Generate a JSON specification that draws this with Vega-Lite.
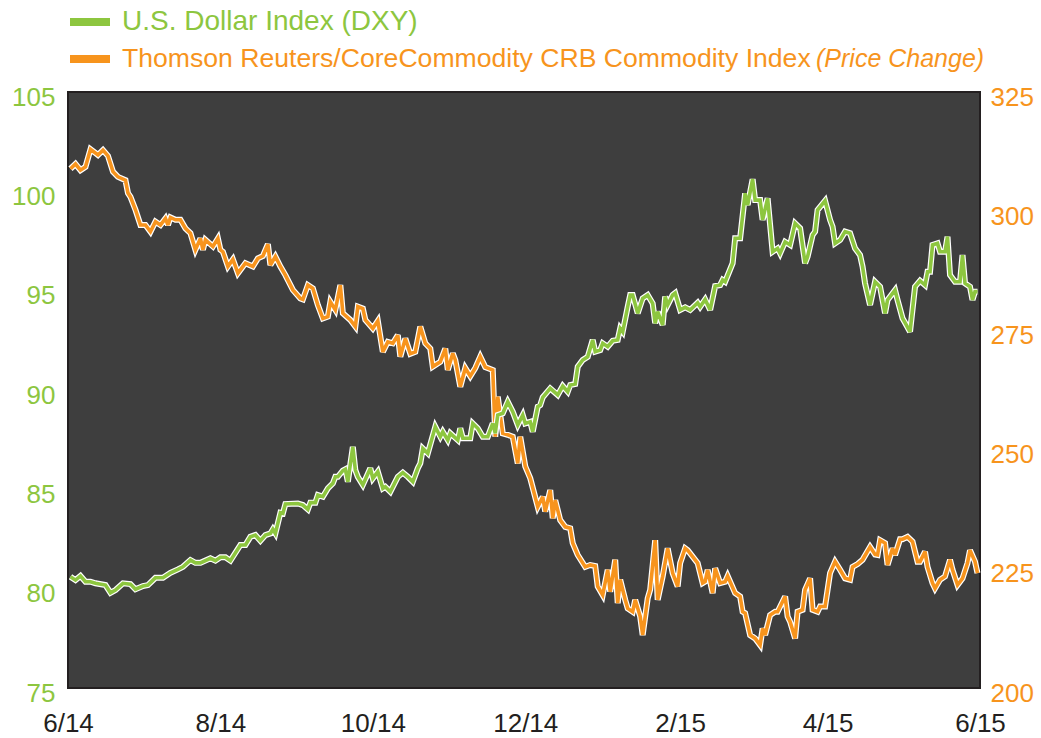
{
  "$schema": "https://vega.github.io/schema/vega-lite/v6.json",
  "width": 912,
  "height": 596,
  "autosize": {"type": "none"},
  "padding": {"left": 68, "top": 92, "right": 61, "bottom": 50},
  "background": "white",
  "config": {
    "view": {"fill": "#3e3e3e", "stroke": "#231f20", "strokeWidth": 2},
    "font": "Liberation Sans"
  },
  "datasets": {
    "dxy": [
      {"date": "2014-06-02", "value": 80.60}, {"date": "2014-06-04", "value": 80.43}, {"date": "2014-06-06", "value": 80.64}, {"date": "2014-06-08", "value": 80.35}, {"date": "2014-06-10", "value": 80.35}, {"date": "2014-06-12", "value": 80.27}, {"date": "2014-06-16", "value": 80.18}, {"date": "2014-06-18", "value": 79.79}, {"date": "2014-06-20", "value": 79.93}, {"date": "2014-06-23", "value": 80.27}, {"date": "2014-06-26", "value": 80.23}, {"date": "2014-06-28", "value": 79.97},
      {"date": "2014-07-01", "value": 80.13}, {"date": "2014-07-03", "value": 80.18}, {"date": "2014-07-06", "value": 80.55}, {"date": "2014-07-09", "value": 80.55}, {"date": "2014-07-12", "value": 80.80}, {"date": "2014-07-15", "value": 80.97}, {"date": "2014-07-17", "value": 81.10}, {"date": "2014-07-20", "value": 81.44}, {"date": "2014-07-22", "value": 81.30}, {"date": "2014-07-24", "value": 81.30}, {"date": "2014-07-28", "value": 81.53}, {"date": "2014-07-30", "value": 81.41},
      {"date": "2014-08-01", "value": 81.58}, {"date": "2014-08-03", "value": 81.58}, {"date": "2014-08-05", "value": 81.41}, {"date": "2014-08-09", "value": 82.20}, {"date": "2014-08-11", "value": 82.20}, {"date": "2014-08-13", "value": 82.61}, {"date": "2014-08-15", "value": 82.70}, {"date": "2014-08-17", "value": 82.41}, {"date": "2014-08-19", "value": 82.70}, {"date": "2014-08-21", "value": 82.78}, {"date": "2014-08-22", "value": 82.99}, {"date": "2014-08-23", "value": 82.78}, {"date": "2014-08-25", "value": 83.82}, {"date": "2014-08-26", "value": 83.79}, {"date": "2014-08-27", "value": 84.26},
      {"date": "2014-09-01", "value": 84.29}, {"date": "2014-09-03", "value": 84.21}, {"date": "2014-09-05", "value": 83.99}, {"date": "2014-09-06", "value": 84.33}, {"date": "2014-09-08", "value": 84.33}, {"date": "2014-09-09", "value": 84.71}, {"date": "2014-09-11", "value": 84.63}, {"date": "2014-09-13", "value": 85.05}, {"date": "2014-09-15", "value": 85.30}, {"date": "2014-09-16", "value": 85.63}, {"date": "2014-09-17", "value": 85.63}, {"date": "2014-09-19", "value": 85.94}, {"date": "2014-09-20", "value": 86.01}, {"date": "2014-09-21", "value": 85.38}, {"date": "2014-09-23", "value": 87.14}, {"date": "2014-09-24", "value": 85.97}, {"date": "2014-09-25", "value": 85.63}, {"date": "2014-09-27", "value": 85.22}, {"date": "2014-09-30", "value": 86.06},
      {"date": "2014-10-01", "value": 85.55}, {"date": "2014-10-03", "value": 85.89}, {"date": "2014-10-05", "value": 85.05}, {"date": "2014-10-06", "value": 85.13}, {"date": "2014-10-08", "value": 84.88}, {"date": "2014-10-11", "value": 85.63}, {"date": "2014-10-13", "value": 85.84}, {"date": "2014-10-15", "value": 85.63}, {"date": "2014-10-17", "value": 85.38}, {"date": "2014-10-19", "value": 86.06}, {"date": "2014-10-20", "value": 86.31}, {"date": "2014-10-21", "value": 87.06}, {"date": "2014-10-23", "value": 86.81}, {"date": "2014-10-26", "value": 88.15}, {"date": "2014-10-28", "value": 87.65}, {"date": "2014-10-29", "value": 87.90}, {"date": "2014-10-31", "value": 87.48},
      {"date": "2014-11-01", "value": 87.82}, {"date": "2014-11-04", "value": 87.48}, {"date": "2014-11-05", "value": 88.07}, {"date": "2014-11-06", "value": 87.57}, {"date": "2014-11-09", "value": 87.57}, {"date": "2014-11-10", "value": 88.32}, {"date": "2014-11-12", "value": 88.07}, {"date": "2014-11-14", "value": 87.65}, {"date": "2014-11-16", "value": 87.65}, {"date": "2014-11-18", "value": 88.32}, {"date": "2014-11-19", "value": 87.82}, {"date": "2014-11-20", "value": 88.74}, {"date": "2014-11-22", "value": 88.83}, {"date": "2014-11-24", "value": 89.41}, {"date": "2014-11-26", "value": 88.91}, {"date": "2014-11-28", "value": 88.24}, {"date": "2014-11-30", "value": 88.74},
      {"date": "2014-12-01", "value": 88.32}, {"date": "2014-12-03", "value": 88.40}, {"date": "2014-12-04", "value": 87.90}, {"date": "2014-12-06", "value": 89.16}, {"date": "2014-12-07", "value": 89.24}, {"date": "2014-12-08", "value": 89.63}, {"date": "2014-12-11", "value": 90.08}, {"date": "2014-12-14", "value": 89.75}, {"date": "2014-12-16", "value": 90.20}, {"date": "2014-12-18", "value": 89.91}, {"date": "2014-12-19", "value": 90.25}, {"date": "2014-12-21", "value": 90.30}, {"date": "2014-12-22", "value": 91.17}, {"date": "2014-12-24", "value": 91.51}, {"date": "2014-12-26", "value": 91.67}, {"date": "2014-12-28", "value": 92.52}, {"date": "2014-12-29", "value": 91.93}, {"date": "2014-12-31", "value": 92.01},
      {"date": "2015-01-01", "value": 92.35}, {"date": "2015-01-03", "value": 92.18}, {"date": "2015-01-05", "value": 92.48}, {"date": "2015-01-07", "value": 92.52}, {"date": "2015-01-08", "value": 93.10}, {"date": "2015-01-09", "value": 92.93}, {"date": "2015-01-11", "value": 94.19}, {"date": "2015-01-12", "value": 94.78}, {"date": "2015-01-13", "value": 94.78}, {"date": "2015-01-15", "value": 93.86}, {"date": "2015-01-17", "value": 94.61}, {"date": "2015-01-19", "value": 94.78}, {"date": "2015-01-21", "value": 94.36}, {"date": "2015-01-22", "value": 93.36}, {"date": "2015-01-23", "value": 93.94}, {"date": "2015-01-25", "value": 93.27}, {"date": "2015-01-26", "value": 94.70}, {"date": "2015-01-27", "value": 94.28}, {"date": "2015-01-29", "value": 94.78}, {"date": "2015-01-30", "value": 94.88},
      {"date": "2015-02-01", "value": 94.03}, {"date": "2015-02-03", "value": 94.16}, {"date": "2015-02-05", "value": 94.03}, {"date": "2015-02-08", "value": 94.39}, {"date": "2015-02-09", "value": 94.19}, {"date": "2015-02-11", "value": 94.56}, {"date": "2015-02-13", "value": 94.03}, {"date": "2015-02-15", "value": 95.23}, {"date": "2015-02-17", "value": 95.28}, {"date": "2015-02-18", "value": 95.54}, {"date": "2015-02-19", "value": 95.45}, {"date": "2015-02-22", "value": 96.38}, {"date": "2015-02-23", "value": 97.64}, {"date": "2015-02-25", "value": 97.64}, {"date": "2015-02-27", "value": 99.90}, {"date": "2015-02-28", "value": 99.31},
      {"date": "2015-03-02", "value": 100.61}, {"date": "2015-03-03", "value": 99.56}, {"date": "2015-03-05", "value": 99.56}, {"date": "2015-03-06", "value": 98.56}, {"date": "2015-03-08", "value": 99.65}, {"date": "2015-03-10", "value": 96.96}, {"date": "2015-03-12", "value": 97.13}, {"date": "2015-03-13", "value": 96.88}, {"date": "2015-03-15", "value": 97.46}, {"date": "2015-03-17", "value": 97.30}, {"date": "2015-03-19", "value": 98.39}, {"date": "2015-03-21", "value": 98.14}, {"date": "2015-03-23", "value": 96.38}, {"date": "2015-03-24", "value": 96.71}, {"date": "2015-03-26", "value": 97.80}, {"date": "2015-03-27", "value": 97.97}, {"date": "2015-03-28", "value": 99.06}, {"date": "2015-03-31", "value": 99.53},
      {"date": "2015-04-02", "value": 98.56}, {"date": "2015-04-03", "value": 98.22}, {"date": "2015-04-04", "value": 97.38}, {"date": "2015-04-06", "value": 97.55}, {"date": "2015-04-08", "value": 97.97}, {"date": "2015-04-10", "value": 97.89}, {"date": "2015-04-12", "value": 97.13}, {"date": "2015-04-14", "value": 96.79}, {"date": "2015-04-15", "value": 96.21}, {"date": "2015-04-16", "value": 95.37}, {"date": "2015-04-18", "value": 94.28}, {"date": "2015-04-20", "value": 95.45}, {"date": "2015-04-22", "value": 95.20}, {"date": "2015-04-24", "value": 93.86}, {"date": "2015-04-25", "value": 94.53}, {"date": "2015-04-28", "value": 95.03}, {"date": "2015-04-29", "value": 94.53},
      {"date": "2015-05-01", "value": 93.61}, {"date": "2015-05-02", "value": 93.39}, {"date": "2015-05-04", "value": 92.93}, {"date": "2015-05-06", "value": 95.20}, {"date": "2015-05-08", "value": 95.50}, {"date": "2015-05-10", "value": 95.28}, {"date": "2015-05-11", "value": 95.95}, {"date": "2015-05-12", "value": 95.95}, {"date": "2015-05-13", "value": 97.30}, {"date": "2015-05-15", "value": 97.38}, {"date": "2015-05-16", "value": 96.96}, {"date": "2015-05-18", "value": 96.96}, {"date": "2015-05-19", "value": 97.72}, {"date": "2015-05-20", "value": 95.79}, {"date": "2015-05-22", "value": 95.45}, {"date": "2015-05-24", "value": 95.45}, {"date": "2015-05-25", "value": 96.79}, {"date": "2015-05-26", "value": 95.37}, {"date": "2015-05-28", "value": 95.20}, {"date": "2015-05-29", "value": 94.53}, {"date": "2015-05-30", "value": 94.95}, {"date": "2015-05-31", "value": 94.95}
    ],
    "crb": [
      {"date": "2014-06-02", "value": 308.9}, {"date": "2014-06-04", "value": 309.9}, {"date": "2014-06-06", "value": 308.6}, {"date": "2014-06-08", "value": 309.3}, {"date": "2014-06-10", "value": 313.0}, {"date": "2014-06-13", "value": 311.8}, {"date": "2014-06-15", "value": 312.8}, {"date": "2014-06-17", "value": 311.6}, {"date": "2014-06-19", "value": 308.3}, {"date": "2014-06-21", "value": 307.2}, {"date": "2014-06-24", "value": 306.5}, {"date": "2014-06-25", "value": 303.8}, {"date": "2014-06-26", "value": 303.0}, {"date": "2014-06-28", "value": 300.3}, {"date": "2014-06-30", "value": 297.1},
      {"date": "2014-07-02", "value": 297.1}, {"date": "2014-07-04", "value": 295.7}, {"date": "2014-07-06", "value": 297.8}, {"date": "2014-07-08", "value": 297.1}, {"date": "2014-07-10", "value": 298.5}, {"date": "2014-07-11", "value": 297.1}, {"date": "2014-07-12", "value": 298.7}, {"date": "2014-07-14", "value": 298.2}, {"date": "2014-07-16", "value": 298.2}, {"date": "2014-07-18", "value": 296.4}, {"date": "2014-07-20", "value": 295.4}, {"date": "2014-07-22", "value": 291.9}, {"date": "2014-07-24", "value": 294.3}, {"date": "2014-07-25", "value": 291.9}, {"date": "2014-07-26", "value": 294.0}, {"date": "2014-07-29", "value": 292.6}, {"date": "2014-07-31", "value": 294.3},
      {"date": "2014-08-01", "value": 291.9}, {"date": "2014-08-02", "value": 291.5}, {"date": "2014-08-04", "value": 288.4}, {"date": "2014-08-06", "value": 289.9}, {"date": "2014-08-08", "value": 287.0}, {"date": "2014-08-11", "value": 289.1}, {"date": "2014-08-14", "value": 288.4}, {"date": "2014-08-16", "value": 290.1}, {"date": "2014-08-18", "value": 290.6}, {"date": "2014-08-20", "value": 293.1}, {"date": "2014-08-21", "value": 288.7}, {"date": "2014-08-23", "value": 290.5}, {"date": "2014-08-25", "value": 288.4}, {"date": "2014-08-27", "value": 286.6}, {"date": "2014-08-30", "value": 283.5},
      {"date": "2014-09-02", "value": 281.7}, {"date": "2014-09-03", "value": 281.5}, {"date": "2014-09-05", "value": 284.5}, {"date": "2014-09-07", "value": 283.8}, {"date": "2014-09-09", "value": 280.3}, {"date": "2014-09-11", "value": 277.5}, {"date": "2014-09-13", "value": 277.9}, {"date": "2014-09-14", "value": 281.0}, {"date": "2014-09-16", "value": 279.3}, {"date": "2014-09-18", "value": 284.5}, {"date": "2014-09-19", "value": 278.6}, {"date": "2014-09-22", "value": 277.2}, {"date": "2014-09-24", "value": 275.8}, {"date": "2014-09-25", "value": 280.0}, {"date": "2014-09-27", "value": 279.6}, {"date": "2014-09-28", "value": 277.2},
      {"date": "2014-10-01", "value": 275.4}, {"date": "2014-10-03", "value": 277.0}, {"date": "2014-10-05", "value": 270.5}, {"date": "2014-10-07", "value": 272.6}, {"date": "2014-10-09", "value": 272.3}, {"date": "2014-10-11", "value": 274.0}, {"date": "2014-10-12", "value": 269.5}, {"date": "2014-10-14", "value": 273.3}, {"date": "2014-10-16", "value": 270.1}, {"date": "2014-10-18", "value": 270.5}, {"date": "2014-10-20", "value": 275.8}, {"date": "2014-10-22", "value": 272.3}, {"date": "2014-10-24", "value": 271.2}, {"date": "2014-10-25", "value": 267.4}, {"date": "2014-10-28", "value": 268.4}, {"date": "2014-10-30", "value": 271.2}, {"date": "2014-10-31", "value": 266.7},
      {"date": "2014-11-02", "value": 270.2}, {"date": "2014-11-03", "value": 268.8}, {"date": "2014-11-05", "value": 263.2}, {"date": "2014-11-07", "value": 267.1}, {"date": "2014-11-09", "value": 265.4}, {"date": "2014-11-11", "value": 267.1}, {"date": "2014-11-13", "value": 269.5}, {"date": "2014-11-15", "value": 267.3}, {"date": "2014-11-18", "value": 266.7}, {"date": "2014-11-19", "value": 252.7}, {"date": "2014-11-20", "value": 261.1}, {"date": "2014-11-22", "value": 253.4}, {"date": "2014-11-24", "value": 253.1}, {"date": "2014-11-26", "value": 252.7}, {"date": "2014-11-28", "value": 247.1}, {"date": "2014-11-29", "value": 252.7},
      {"date": "2014-12-01", "value": 246.5}, {"date": "2014-12-03", "value": 244.0}, {"date": "2014-12-06", "value": 238.0}, {"date": "2014-12-08", "value": 240.1}, {"date": "2014-12-09", "value": 237.0}, {"date": "2014-12-11", "value": 241.5}, {"date": "2014-12-12", "value": 235.6}, {"date": "2014-12-13", "value": 239.4}, {"date": "2014-12-15", "value": 235.2}, {"date": "2014-12-17", "value": 233.8}, {"date": "2014-12-19", "value": 233.5}, {"date": "2014-12-20", "value": 230.4}, {"date": "2014-12-22", "value": 227.9}, {"date": "2014-12-25", "value": 225.4}, {"date": "2014-12-27", "value": 225.8}, {"date": "2014-12-29", "value": 225.6}, {"date": "2014-12-30", "value": 221.3},
      {"date": "2015-01-01", "value": 219.5}, {"date": "2015-01-03", "value": 224.8}, {"date": "2015-01-04", "value": 220.2}, {"date": "2015-01-06", "value": 226.9}, {"date": "2015-01-07", "value": 217.8}, {"date": "2015-01-08", "value": 222.7}, {"date": "2015-01-10", "value": 218.5}, {"date": "2015-01-11", "value": 216.7}, {"date": "2015-01-13", "value": 216.0}, {"date": "2015-01-14", "value": 218.5}, {"date": "2015-01-16", "value": 215.0}, {"date": "2015-01-17", "value": 211.1}, {"date": "2015-01-19", "value": 218.8}, {"date": "2015-01-20", "value": 220.6}, {"date": "2015-01-22", "value": 231.0}, {"date": "2015-01-23", "value": 218.5}, {"date": "2015-01-25", "value": 223.4}, {"date": "2015-01-27", "value": 229.3}, {"date": "2015-01-29", "value": 224.1}, {"date": "2015-01-31", "value": 221.3},
      {"date": "2015-02-01", "value": 226.2}, {"date": "2015-02-03", "value": 229.3}, {"date": "2015-02-04", "value": 228.9}, {"date": "2015-02-08", "value": 226.2}, {"date": "2015-02-10", "value": 222.0}, {"date": "2015-02-11", "value": 222.3}, {"date": "2015-02-12", "value": 224.8}, {"date": "2015-02-14", "value": 219.9}, {"date": "2015-02-15", "value": 225.1}, {"date": "2015-02-17", "value": 222.0}, {"date": "2015-02-19", "value": 222.3}, {"date": "2015-02-20", "value": 223.5}, {"date": "2015-02-21", "value": 222.3}, {"date": "2015-02-23", "value": 219.9}, {"date": "2015-02-25", "value": 219.2}, {"date": "2015-02-26", "value": 216.0}, {"date": "2015-02-27", "value": 215.7},
      {"date": "2015-03-01", "value": 211.1}, {"date": "2015-03-03", "value": 210.4}, {"date": "2015-03-05", "value": 209.0}, {"date": "2015-03-06", "value": 212.5}, {"date": "2015-03-07", "value": 211.1}, {"date": "2015-03-09", "value": 215.3}, {"date": "2015-03-11", "value": 216.0}, {"date": "2015-03-12", "value": 216.0}, {"date": "2015-03-15", "value": 219.2}, {"date": "2015-03-16", "value": 215.0}, {"date": "2015-03-17", "value": 213.9}, {"date": "2015-03-19", "value": 210.4}, {"date": "2015-03-20", "value": 216.0}, {"date": "2015-03-22", "value": 216.4}, {"date": "2015-03-23", "value": 220.6}, {"date": "2015-03-25", "value": 223.0}, {"date": "2015-03-26", "value": 216.4}, {"date": "2015-03-28", "value": 216.0}, {"date": "2015-03-29", "value": 217.1}, {"date": "2015-03-31", "value": 217.1},
      {"date": "2015-04-02", "value": 224.1}, {"date": "2015-04-04", "value": 226.5}, {"date": "2015-04-06", "value": 224.8}, {"date": "2015-04-08", "value": 223.0}, {"date": "2015-04-10", "value": 222.7}, {"date": "2015-04-11", "value": 225.4}, {"date": "2015-04-13", "value": 226.0}, {"date": "2015-04-15", "value": 226.9}, {"date": "2015-04-18", "value": 229.6}, {"date": "2015-04-20", "value": 228.0}, {"date": "2015-04-21", "value": 227.9}, {"date": "2015-04-22", "value": 231.0}, {"date": "2015-04-24", "value": 230.4}, {"date": "2015-04-25", "value": 225.8}, {"date": "2015-04-27", "value": 229.3}, {"date": "2015-04-28", "value": 227.9}, {"date": "2015-04-30", "value": 231.2},
      {"date": "2015-05-01", "value": 231.2}, {"date": "2015-05-03", "value": 231.7}, {"date": "2015-05-05", "value": 230.7}, {"date": "2015-05-07", "value": 226.5}, {"date": "2015-05-08", "value": 226.5}, {"date": "2015-05-10", "value": 228.6}, {"date": "2015-05-11", "value": 225.4}, {"date": "2015-05-13", "value": 222.0}, {"date": "2015-05-14", "value": 220.9}, {"date": "2015-05-16", "value": 222.7}, {"date": "2015-05-18", "value": 223.4}, {"date": "2015-05-20", "value": 226.9}, {"date": "2015-05-21", "value": 224.8}, {"date": "2015-05-23", "value": 221.6}, {"date": "2015-05-25", "value": 223.0}, {"date": "2015-05-27", "value": 226.2}, {"date": "2015-05-28", "value": 228.9}, {"date": "2015-05-30", "value": 226.5}, {"date": "2015-05-31", "value": 224.1}
    ]
  },
  "encoding": {
    "x": {
      "field": "date",
      "type": "temporal",
      "scale": {
        "type": "utc",
        "domain": [
          {"year": 2014, "month": 6, "date": 1, "utc": true},
          {"year": 2015, "month": 6, "date": 1, "utc": true}
        ]
      },
      "axis": {
        "title": null,
        "values": [
          {"year": 2014, "month": 6, "date": 1, "utc": true},
          {"year": 2014, "month": 8, "date": 1, "utc": true},
          {"year": 2014, "month": 10, "date": 1, "utc": true},
          {"year": 2014, "month": 12, "date": 1, "utc": true},
          {"year": 2015, "month": 2, "date": 1, "utc": true},
          {"year": 2015, "month": 4, "date": 1, "utc": true},
          {"year": 2015, "month": 6, "date": 1, "utc": true}
        ],
        "labelExpr": "utcFormat(datum.value, '%-m/%y')",
        "ticks": false,
        "domain": false,
        "grid": false,
        "labelFont": "Liberation Sans",
        "labelFontSize": 26,
        "labelColor": "#231f20",
        "labelPadding": 22,
        "labelFlush": false,
        "labelOverlap": false,
        "labelBound": false
      }
    }
  },
  "layer": [
    {
      "data": {"name": "crb"},
      "encoding": {
        "y": {
          "field": "value",
          "type": "quantitative",
          "scale": {"domain": [200, 325], "nice": false, "zero": false},
          "axis": {
            "orient": "right",
            "title": null,
            "values": [200, 225, 250, 275, 300, 325],
            "ticks": false,
            "domain": false,
            "grid": false,
            "labelColor": "#f7941d",
            "labelFontSize": 26,
            "labelPadding": 10,
            "labelOffset": 5,
            "labelFlush": false,
            "labelOverlap": false
          }
        }
      },
      "layer": [
        {
          "mark": {"type": "line", "color": "white", "strokeWidth": 6, "strokeJoin": "miter", "strokeMiterLimit": 3},
          "encoding": {}
        },
        {
          "mark": {"type": "line", "strokeWidth": 3.6, "strokeJoin": "miter", "strokeMiterLimit": 3},
          "encoding": {
            "color": {
              "datum": "Thomson Reuters/CoreCommodity CRB Commodity Index",
              "type": "nominal",
              "scale": {
                "domain": ["U.S. Dollar Index (DXY)", "Thomson Reuters/CoreCommodity CRB Commodity Index"],
                "range": ["#8dc63f", "#f7941d"]
              },
              "legend": {
                "orient": "none",
                "legendX": 2,
                "legendY": -90,
                "title": null,
                "padding": 0,
                "rowPadding": 3,
                "symbolType": "M-1,-0.2H1V0.2H-1Z",
                "symbolSize": 1600,
                "symbolStrokeWidth": 0,
                "labelOffset": 12,
                "labelFontSize": 28,
                "labelLimit": 1000,
                "encode": {
                  "symbols": {"update": {"fill": {"signal": "datum.value == 'U.S. Dollar Index (DXY)' ? '#8dc63f' : '#f7941d'"}, "stroke": {"value": "transparent"}}},
                  "labels": {"update": {
                    "fill": {"signal": "datum.value == 'U.S. Dollar Index (DXY)' ? '#8dc63f' : '#f7941d'"},
                    "fontSize": {"signal": "datum.value == 'U.S. Dollar Index (DXY)' ? 28 : 26.6"}
                  }}
                }
              }
            },
            "opacity": {
              "datum": "(Price Change)",
              "type": "nominal",
              "scale": {"range": [1]},
              "legend": {
                "orient": "none",
                "legendX": 723,
                "legendY": -46,
                "title": null,
                "padding": 0,
                "symbolSize": 0,
                "symbolStrokeWidth": 0,
                "symbolOpacity": 0,
                "labelOffset": 0,
                "labelFontSize": 25,
                "labelFontStyle": "italic",
                "labelColor": "#f7941d",
                "labelLimit": 1000
              }
            }
          }
        }
      ]
    },
    {
      "data": {"name": "dxy"},
      "encoding": {
        "y": {
          "field": "value",
          "type": "quantitative",
          "scale": {"domain": [75, 105], "nice": false, "zero": false},
          "axis": {
            "orient": "left",
            "title": null,
            "values": [75, 80, 85, 90, 95, 100, 105],
            "ticks": false,
            "domain": false,
            "grid": false,
            "labelColor": "#8dc63f",
            "labelFontSize": 26,
            "labelPadding": 13,
            "labelOffset": 5,
            "labelFlush": false,
            "labelOverlap": false
          }
        }
      },
      "layer": [
        {
          "mark": {"type": "line", "color": "white", "strokeWidth": 6, "strokeJoin": "miter", "strokeMiterLimit": 3},
          "encoding": {}
        },
        {
          "mark": {"type": "line", "strokeWidth": 3.6, "strokeJoin": "miter", "strokeMiterLimit": 3},
          "encoding": {
            "color": {"datum": "U.S. Dollar Index (DXY)", "type": "nominal"}
          }
        }
      ]
    }
  ],
  "resolve": {"scale": {"y": "independent"}}
}
